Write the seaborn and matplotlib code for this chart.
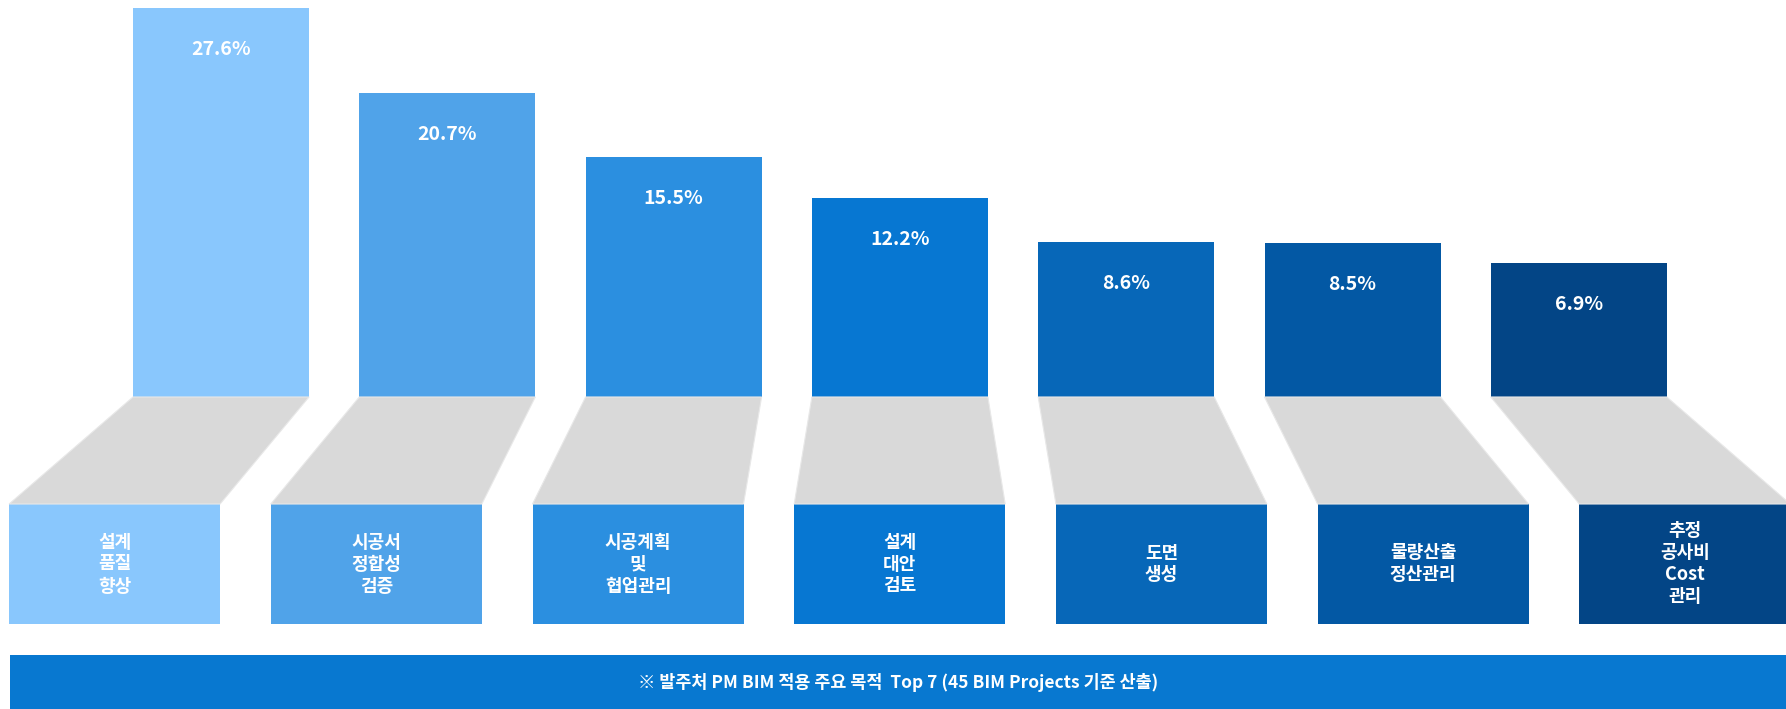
import matplotlib
matplotlib.use("Agg")
import matplotlib.pyplot as plt
from matplotlib.patches import Polygon, Rectangle
import seaborn as sns
import pandas as pd

# ---------------- data ----------------
categories = ["설계 품질 향상", "시공서 정합성 검증", "시공계획 및 협업관리", "설계 대안 검토",
              "도면 생성", "물량산출 정산관리", "추정 공사비 Cost 관리"]
box_labels = ["설계\n품질\n향상", "시공서\n정합성\n검증", "시공계획\n및\n협업관리", "설계\n대안\n검토",
              "도면\n생성", "물량산출\n정산관리", "추정\n공사비\nCost\n관리"]
values = [27.6, 20.7, 15.5, 12.2, 8.6, 8.5, 6.9]
colors = ["#89C7FD", "#50A3E9", "#2B8FE0", "#0777D2", "#0767B8", "#0358A4", "#034586"]
banner_text = "※ 발주처 PM BIM 적용 주요 목적  Top 7 (45 BIM Projects 기준 산출)"

# ---------------- style ----------------
sns.set_theme(style="white")
plt.rcParams["font.family"] = ["Noto Sans CJK KR", "DejaVu Sans"]

W, H = 1786, 709
fig = plt.figure(figsize=(W / 100, H / 100), dpi=100)
fig.patch.set_facecolor("white")

GRAY = "#D9D9D9"
BANNER = "#0878D0"
FLOOR = -4.0
BAR_STEP, BAR_C0 = 226.3, 221.0
BOX_STEP, BOX_C0 = 261.7, 114.6

# ---------------- top bars ----------------
ax_top = fig.add_axes([0, 312 / H, 1, 397 / H])
df = pd.DataFrame({"cat": categories, "val": values})
sns.barplot(data=df, x="cat", y="val", hue="cat", palette=colors, width=176 / BAR_STEP,
            saturation=1, legend=False, ax=ax_top, linewidth=0)
for p in ax_top.patches:
    top = p.get_y() + p.get_height()
    p.set_y(FLOOR)
    p.set_height(top - FLOOR)
ax_top.set_xlim(-BAR_C0 / BAR_STEP, (W - BAR_C0) / BAR_STEP)
ax_top.set_ylim(FLOOR, 28.25)
ax_top.set_axis_off()
for i, v in enumerate(values):
    ax_top.annotate(f"{v}%", (i, v), xytext=(0, -30), textcoords="offset points",
                    ha="center", va="center", color="white", fontsize=14, fontweight="bold")

# ---------------- label boxes ----------------
ax_bot = fig.add_axes([0, 85 / H, 1, 120 / H])
box_df = pd.DataFrame({"cat": categories, "h": [1] * len(categories)})
sns.barplot(data=box_df, x="cat", y="h", hue="cat", palette=colors, width=211 / BOX_STEP,
            saturation=1, legend=False, ax=ax_bot, linewidth=0)
ax_bot.set_xlim(-BOX_C0 / BOX_STEP, (W - BOX_C0) / BOX_STEP)
ax_bot.set_ylim(0, 1)
ax_bot.set_axis_off()
for i, lab in enumerate(box_labels):
    ax_bot.text(i, 0.5, lab, ha="center", va="center", color="white",
                fontsize=13, fontweight="bold", linespacing=1.2)

# ---------------- connectors (gray trapezoids) ----------------
inv = fig.transFigure.inverted()
for pt, pb in zip(ax_top.patches, ax_bot.patches):
    x0, x1 = pt.get_x(), pt.get_x() + pt.get_width()
    b0, b1 = pb.get_x(), pb.get_x() + pb.get_width()
    pts = [ax_top.transData.transform((x0, FLOOR)),
           ax_top.transData.transform((x1, FLOOR)),
           ax_bot.transData.transform((b1, 1)),
           ax_bot.transData.transform((b0, 1))]
    poly = Polygon(inv.transform(pts), closed=True, facecolor=GRAY,
                   edgecolor="#E8E8E8", linewidth=0.8, transform=fig.transFigure)
    fig.add_artist(poly)

# ---------------- banner ----------------
fig.add_artist(Rectangle((9.6 / W, 0), 1, 54 / H, transform=fig.transFigure,
                         facecolor=BANNER, edgecolor="none"))
fig.text(898 / W, 26 / H, banner_text, ha="center", va="center", color="white",
         fontsize=12.5, fontweight="bold")

fig.savefig("out.png", dpi=100, facecolor="white")
